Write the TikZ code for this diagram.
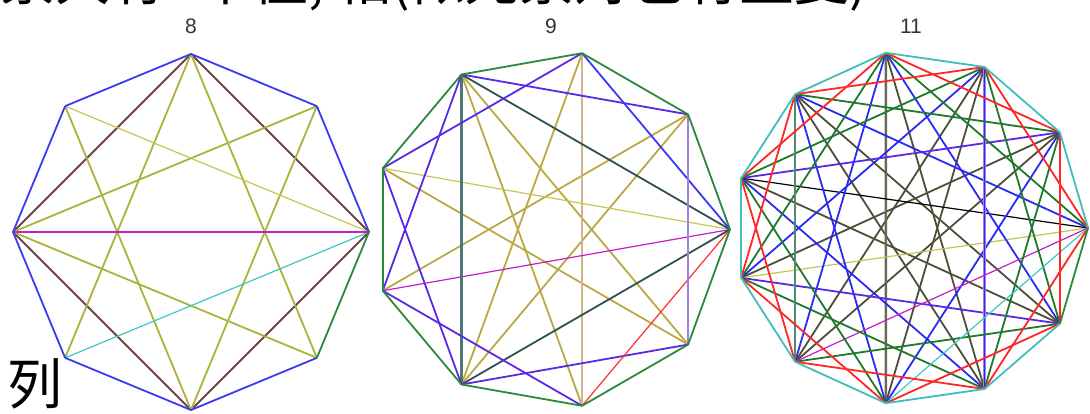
\documentclass[tikz,border=0pt]{standalone}
\usepackage{fontspec}
\setmainfont{Liberation Sans}
\newfontfamily\cjk{Noto Sans CJK SC}
\usepackage{xcolor}
% 8 points
\definecolor{gblue}{HTML}{3A3AF0}
\definecolor{gbrown}{HTML}{6E4444}
\definecolor{golive}{HTML}{A8B43A}
\definecolor{gyellow}{HTML}{C8C450}
\definecolor{gmag}{HTML}{C41EC4}
\definecolor{gcyan}{HTML}{3CC8C8}
\definecolor{ggreen}{HTML}{2A8A3A}
% 9 points
\definecolor{nviolet}{HTML}{5A28E6}
\definecolor{ngold}{HTML}{BBA843}
\definecolor{nslate}{HTML}{2F5050}
\definecolor{nslatel}{HTML}{4E7878}
\definecolor{ntan}{HTML}{D2B48C}
\definecolor{nlav}{HTML}{A67CE6}
\definecolor{gred}{HTML}{FF3030}
% 11 points
\definecolor{eteal}{HTML}{40BDBD}
\definecolor{ered}{HTML}{FF2626}
\definecolor{egreen}{HTML}{1E7A2A}
\definecolor{egreenl}{HTML}{528C6C}
\definecolor{eblue}{HTML}{2A2AF5}
\definecolor{eolive}{HTML}{4E4E38}

\begin{document}
\begin{tikzpicture}[x=1pt,y=1pt,
  ln/.style={line width=1.8pt},
  fine/.style={line width=1.2pt},
  vert/.style={line width=2.6pt},
  lbl/.style={font=\fontsize{21}{21}\selectfont, text=black!80},
  big/.style={anchor=base west, inner sep=0pt, font=\cjk\fontsize{55}{60}\selectfont},
  ]
  \useasboundingbox (0,0) rectangle (1090,414);
  \clip (0,0) rectangle (1090,414);

  % text of the page, cut at the top
  \node[big] (caption) at (0,413) {素大有n个值, 相(似元素对也有重复)};
  \node[big] (lie) at (7,9) {列};

  % ---- 8 ----
  \foreach \i in {0,...,7}
    \path (191,182) ++(\i*45:178) coordinate (a\i);
  \node[lbl] (lab8) at (191,388) {8};
  \foreach \i/\j in {0/2,2/4,4/6,6/0}
    \draw[ln, gbrown] (a\i) -- (a\j);
  \foreach \i/\j in {1/4,2/5,3/6,4/7,6/1,7/2}
    \draw[ln, golive] (a\i) -- (a\j);
  \draw[fine, gyellow] (a0) -- (a3);
  \draw[fine, gcyan] (a0) -- (a5);
  \draw[fine, gmag] (a0) -- (a4);
  \foreach \i/\j in {0/1,1/2,2/3,3/4,4/5,5/6,6/7}
    \draw[ln, gblue] (a\i) -- (a\j);
  \draw[ln, ggreen] (a7) -- (a0);

  % ---- 9 ----
  \foreach \i in {0,...,8}
    \path (551,184.5) ++(\i*40:179) coordinate (b\i);
  \node[lbl] (lab9) at (551,388) {9};
  \foreach \i/\j in {1/5,2/6,3/7,4/8,6/1,8/3}
    \draw[ln, ngold] (b\i) -- (b\j);
  \draw[vert, ntan] (b7) -- (b2);
  \draw[fine, gyellow] (b0) -- (b4);
  \draw[fine, gmag] (b5) -- (b0);
  \draw[ln, nslate] (b0) -- (b3);
  \draw[ln, nslate] (b6) -- (b0);
  \draw[vert, nslatel] (b3) -- (b6);
  \foreach \i/\j in {1/3,2/4,3/5,4/6,5/7,6/8}
    \draw[ln, nviolet] (b\i) -- (b\j);
  \draw[ln, gblue] (b0) -- (b2);
  \draw[fine, gred] (b7) -- (b0);
  \draw[vert, nlav] (b8) -- (b1);
  \foreach \i/\j in {0/1,1/2,2/3,3/4,4/5,5/6,6/7,7/8,8/0}
    \draw[ln, ggreen] (b\i) -- (b\j);

  % ---- 11 ----
  \foreach \i in {0,...,10}
    \path (911,186) ++(\i*360/11:177) coordinate (c\i);
  \node[lbl] (lab11) at (911,388) {11};
  \foreach \i/\j in {1/6,2/7,4/9,5/10,7/1,8/2,9/3,10/4}
    \draw[ln, eolive] (c\i) -- (c\j);
  \draw[vert, eolive!85] (c3) -- (c8);
  \draw[fine, gyellow] (c6) -- (c0);
  \draw[fine, black] (c0) -- (c5);
  \foreach \i/\j in {0/4,2/6,3/7,4/8,5/9,8/1,10/3}
    \draw[ln, eblue] (c\i) -- (c\j);
  \foreach \i/\j in {1/5,6/10}
    \draw[ln, nviolet] (c\i) -- (c\j);
  \draw[vert, nlav] (c9) -- (c2);
  \draw[ln, eblue] (c9) -- (c2);
  \draw[fine, gmag] (c7) -- (c0);
  \foreach \i/\j in {0/3,1/4,2/5,3/6,5/8,6/9,7/10,9/1,10/2}
    \draw[ln, egreen] (c\i) -- (c\j);
  \draw[vert, egreenl] (c4) -- (c7);
  \draw[fine, gcyan] (c8) -- (c0);
  \foreach \i/\j in {0/2,1/3,2/4,3/5,4/6,5/7,6/8,7/9,8/10,9/0,10/1}
    \draw[ln, ered] (c\i) -- (c\j);
  \foreach \i/\j in {0/1,1/2,2/3,3/4,4/5,6/7,7/8,8/9,9/10}
    \draw[ln, eteal] (c\i) -- (c\j);
  \draw[vert, eteal] (c5) -- (c6);
  \draw[ln, ggreen] (c10) -- (c0);
\end{tikzpicture}
\end{document}
